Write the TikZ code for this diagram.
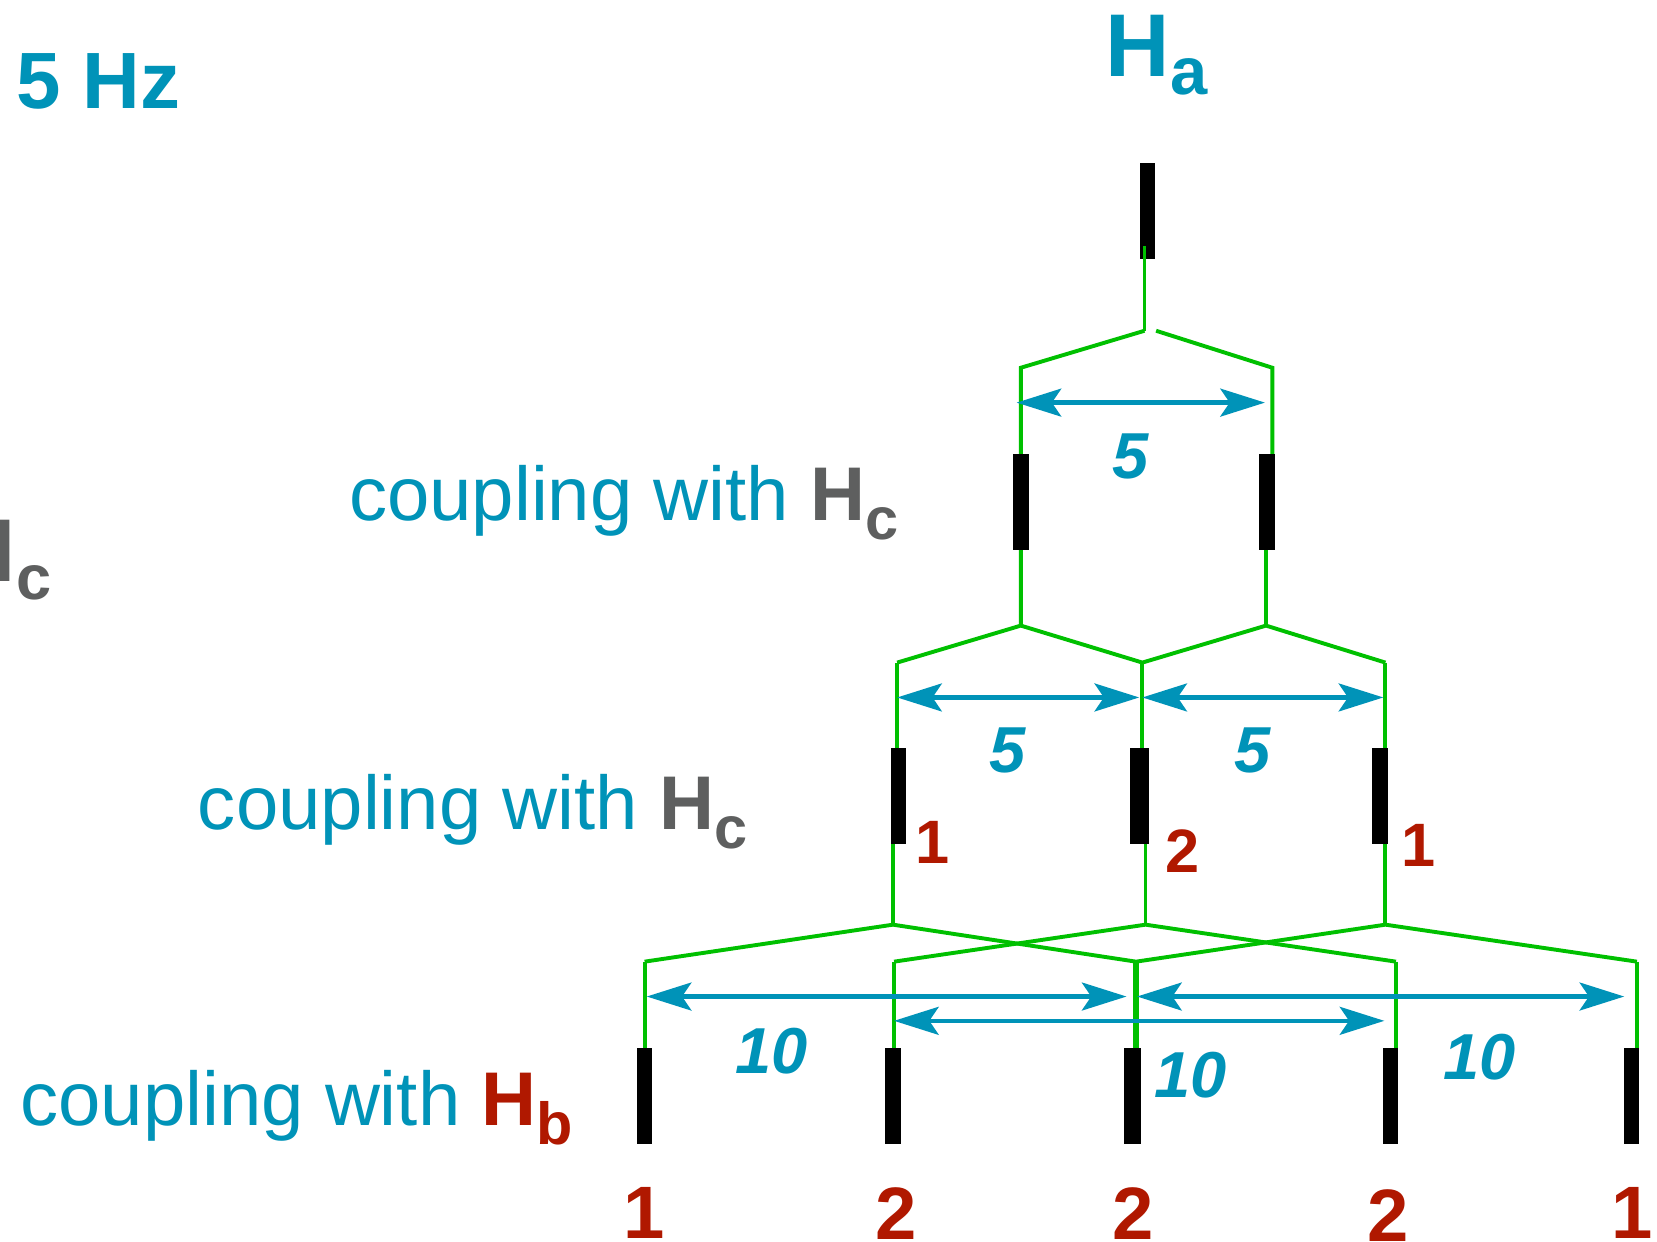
\documentclass[tikz,border=0pt]{standalone}
\usepackage{fontspec}
\setmainfont{Liberation Sans}
\usetikzlibrary{arrows.meta}
\definecolor{gr}{HTML}{00C000}
\definecolor{bl}{HTML}{0093B8}
\definecolor{rd}{HTML}{B01800}
\definecolor{gy}{HTML}{5E5F5F}
\newcommand\lowsub[3]{\raisebox{-#2}{\fontsize{#3}{#3}\selectfont\bfseries #1}}
\begin{document}
\begin{tikzpicture}[x=0.02cm,y=-0.02cm,
  gl/.style={draw=gr, line width=2.1pt},
  peak/.style={fill=black, inner sep=0, minimum width=0.29cm, minimum height=1.82cm},
  dim/.style={draw=bl, line width=2.5pt,
    {Stealth[length=24pt,width=15pt,inset=5pt]}-{Stealth[length=24pt,width=15pt,inset=5pt]}},
  jval/.style={text=bl, font=\fontsize{35}{35}\selectfont\bfseries\itshape, inner sep=0},
  mult/.style={text=rd, font=\fontsize{33}{33}\selectfont\bfseries, inner sep=0},
  multb/.style={text=rd, font=\fontsize{40}{40}\selectfont\bfseries, inner sep=0},
  lab/.style={text=bl, font=\fontsize{41}{45}\selectfont, inner sep=0, anchor=base west},
]
\useasboundingbox[fill=white] (0,0) rectangle (1568,1175);

% ---------- titles ----------
\node[anchor=base west, inner sep=0, text=bl, font=\fontsize{43}{45}\selectfont\bfseries] (hz) at (15,103) {5 Hz};
\node[anchor=base west, inner sep=0, text=bl, font=\fontsize{48}{50}\selectfont\bfseries] (ha) at (1046,72) {H\lowsub{a}{10pt}{36}};
\node[anchor=base east, inner sep=0, text=gy, font=\fontsize{48}{50}\selectfont\bfseries] (hcl) at (49,550) {H\lowsub{c}{10pt}{34}};

\node[lab] (t1) at (330,493) {coupling with \textcolor{gy}{\textbf{H}\lowsub{c}{10pt}{32}}};
\node[lab] (t2) at (187,785) {coupling with \textcolor{gy}{\textbf{H}\lowsub{c}{10pt}{32}}};
\node[lab] (t3) at (19,1065) {coupling with \textcolor{rd}{\textbf{H}\lowsub{b}{10pt}{32}}};

% ---------- coordinates ----------
\coordinate (s0t) at (1083,233);
\coordinate (s0) at (1083,313);
\coordinate (s0r) at (1094,313);
\coordinate (c1L) at (966,348);
\coordinate (c1R) at (1204,348);
\coordinate (c1Rb) at (1204,432);
\coordinate (j1Rt) at (1198,518);
\coordinate (j1L) at (966,592);
\coordinate (j1R) at (1198,592);

\coordinate (c2a) at (849,627);
\coordinate (c2b) at (1081,627);
\coordinate (c2c) at (1311,627);
\coordinate (c2ab) at (849,710);
\coordinate (c2bb) at (1081,710);
\coordinate (c2cb) at (1311,710);
\coordinate (j2at) at (845,796);
\coordinate (j2bt) at (1084,796);
\coordinate (j2ct) at (1311,796);
\coordinate (j2a) at (845,875);
\coordinate (j2b) at (1084,875);
\coordinate (j2c) at (1311,875);

\coordinate (c3a) at (610,910);
\coordinate (c3b) at (846,910);
\coordinate (c3c) at (1075,910);
\coordinate (c3d) at (1321,910);
\coordinate (c3e) at (1549,910);
\coordinate (c3ab) at (610,994);
\coordinate (c3bb) at (846,994);
\coordinate (c3cb) at (1075,994);
\coordinate (c3db) at (1321,994);
\coordinate (c3eb) at (1549,994);

% ---------- green splitting tree ----------
\draw[gl] (s0) -- (c1L) -- (j1L);
\draw[gl] (s0r) -- (c1R) -- (c1Rb);
\draw[gl] (j1Rt) -- (j1R);
\draw[gl] (c2a) -- (j1L) -- (c2b) -- (j1R) -- (c2c);
\draw[gl] (c2a) -- (c2ab);
\draw[gl] (c2b) -- (c2bb);
\draw[gl] (c2c) -- (c2cb);
\draw[gl] (j2at) -- (j2a);
\draw[gl] (j2bt) -- (j2b);
\draw[gl] (j2ct) -- (j2c);
\draw[gl] (c3a) -- (j2a) -- (c3c) -- (j2c) -- (c3e);
\draw[gl] (c3b) -- (j2b) -- (c3d);
\draw[gl] (c3a) -- (c3ab);
\draw[gl] (c3b) -- (c3bb);
\draw[gl, line width=3pt] (c3c) -- (c3cb);
\draw[gl] (c3d) -- (c3db);
\draw[gl] (c3e) -- (c3eb);

% ---------- peaks ----------
\node[peak] (b0) at (1086,200) {};
\node[peak] (b1L) at (966,475) {};
\node[peak] (b1R) at (1199,475) {};
\node[peak] (b2a) at (850,753) {};
\node[peak, minimum width=0.36cm] (b2b) at (1078,753) {};
\node[peak] (b2c) at (1306,753) {};
\node[peak] (b3a) at (610,1037) {};
\node[peak] (b3b) at (845,1037) {};
\node[peak, minimum width=0.32cm] (b3c) at (1072,1037) {};
\node[peak] (b3d) at (1316,1037) {};
\node[peak] (b3e) at (1544,1037) {};

\draw[gl] (s0t) -- (s0);

% ---------- coupling constants ----------
\coordinate (a1l) at (962,381);
\coordinate (a1r) at (1197,381);
\coordinate (a2l) at (849,660);
\coordinate (a2m) at (1078,660);
\coordinate (a2n) at (1081,660);
\coordinate (a2r) at (1309,660);
\coordinate (a3l) at (612,943);
\coordinate (a3m) at (1066,943);
\coordinate (a3n) at (1076,943);
\coordinate (a3r) at (1537,943);
\coordinate (a4l) at (846,966);
\coordinate (a4r) at (1310,966);
\draw[dim] (a1l) -- (a1r);
\draw[dim] (a2l) -- (a2m);
\draw[dim] (a2n) -- (a2r);
\draw[dim] (a3l) -- (a3m);
\draw[dim] (a3n) -- (a3r);
\draw[dim] (a4l) -- (a4r);

\node[jval] (j1) at (1070,432) {5};
\node[jval] (j2) at (953,710) {5};
\node[jval] (j3) at (1185,710) {5};
\node[jval] (j4) at (730,995) {10};
\node[jval] (j5) at (1127,1017) {10};
\node[jval] (j6) at (1400,1000) {10};

% ---------- multiplicities ----------
\node[mult] (m1) at (882,797) {1};
\node[mult] (m2) at (1119,805) {2};
\node[mult] (m3) at (1342,800) {1};

\node[multb] (n1) at (610,1148) {1};
\node[multb] (n2) at (848,1148) {2};
\node[multb] (n3) at (1072,1148) {2};
\node[multb] (n4) at (1314,1150) {2};
\node[multb] (n5) at (1544,1148) {1};
\end{tikzpicture}
\end{document}
